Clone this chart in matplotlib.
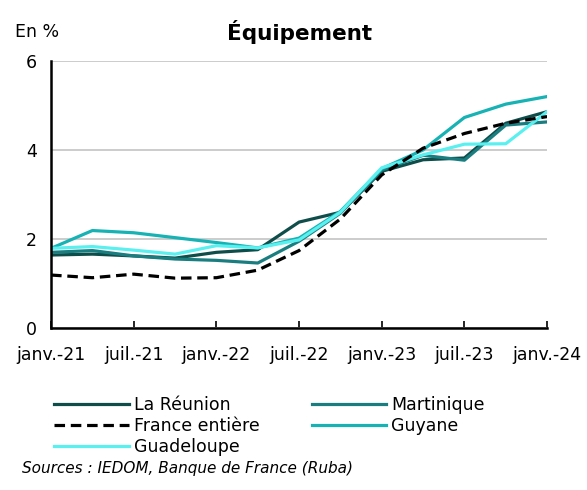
import matplotlib.pyplot as plt
import numpy as np

# quarterly data, janv.-21 to janv.-24
tick_labels = ['janv.-21', 'juil.-21', 'janv.-22', 'juil.-22', 'janv.-23', 'juil.-23', 'janv.-24']

reunion = [1.64, 1.66, 1.62, 1.57, 1.70, 1.76, 2.38, 2.60, 3.52, 3.78, 3.82, 4.60, 4.86]
martinique = [1.70, 1.74, 1.62, 1.55, 1.52, 1.46, 1.95, 2.58, 3.55, 3.88, 3.77, 4.56, 4.63]
guyane = [1.79, 2.19, 2.14, 2.03, 1.92, 1.80, 2.02, 2.62, 3.58, 4.00, 4.73, 5.03, 5.20]
guadeloupe = [1.79, 1.83, 1.75, 1.66, 1.85, 1.80, 1.98, 2.60, 3.60, 3.89, 4.13, 4.14, 4.86]
france = [1.19, 1.13, 1.21, 1.12, 1.13, 1.30, 1.74, 2.45, 3.44, 4.04, 4.37, 4.60, 4.75]

x = np.arange(len(france))

fig = plt.figure(figsize=(5.87, 4.9), dpi=100)
ax = fig.add_axes([0.087, 0.3306, 0.845, 0.545])

lw = 2.3
l1, = ax.plot(x, reunion, color='#0E4D4A', lw=lw, label='La Réunion')
l2, = ax.plot(x, martinique, color='#1A7D80', lw=lw, label='Martinique')
l4, = ax.plot(x, guyane, color='#17B2B4', lw=lw, label='Guyane')
l5, = ax.plot(x, guadeloupe, color='#5AF0F0', lw=lw, label='Guadeloupe')
l3, = ax.plot(x, france, color='black', lw=lw, ls=(0, (3.3, 1.8)), label='France entière')

ax.set_xlim(0, 12)
ax.set_ylim(0, 6)
ax.set_yticks([0, 2, 4, 6])
ax.set_xticks(np.arange(0, 13, 2))
ax.set_xticklabels(tick_labels)
ax.tick_params(axis='x', direction='in', length=5, width=1.2, labelsize=12.5, pad=13)
ax.tick_params(axis='y', length=0, labelsize=12.5, pad=10)
ax.grid(axis='y', color='#C8C8C8', lw=1.3)
ax.set_axisbelow(True)
for s in ['top', 'right']:
    ax.spines[s].set_visible(False)
ax.spines['left'].set_linewidth(1.8)
ax.spines['bottom'].set_linewidth(1.8)

fig.text(0.025, 0.935, 'En %', fontsize=12.5, va='center')
fig.text(0.51, 0.935, 'Équipement', fontsize=15.5, fontweight='bold', ha='center', va='center')

# legend fills column by column
fig.legend(handles=[l1, l3, l5, l2, l4], ncol=2, loc='upper left',
           bbox_to_anchor=(0.08, 0.205), frameon=False, fontsize=12.5,
           handlelength=4.3, handletextpad=0.3, columnspacing=3.0,
           labelspacing=0.15, borderaxespad=0)

fig.text(0.038, 0.043, 'Sources : IEDOM, Banque de France (Ruba)', fontsize=11,
         style='italic', va='center')

fig.savefig('out.png', dpi=100)
